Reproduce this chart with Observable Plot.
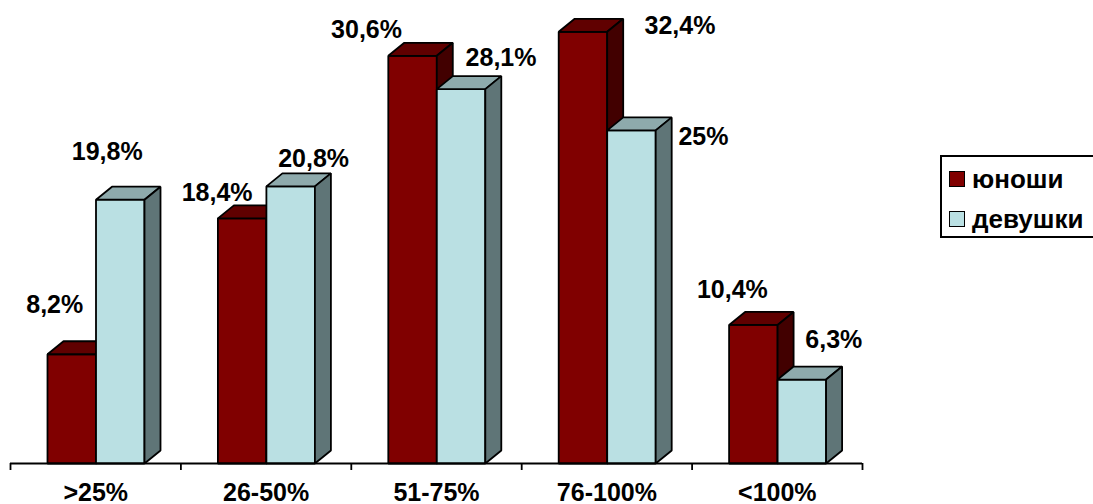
<!DOCTYPE html>
<html><head><meta charset="utf-8">
<script src="https://cdn.jsdelivr.net/npm/d3@7"></script>
<script src="https://cdn.jsdelivr.net/npm/@observablehq/plot@0.6"></script>
<style>
html,body{margin:0;padding:0;background:#fff;overflow:hidden;}
#wrap{position:relative;width:1093px;height:504px;font-family:"Liberation Sans",Arial,sans-serif;}
.legend{position:absolute;left:940px;top:155px;width:170px;height:83px;border:2px solid #000;box-sizing:border-box;font-weight:bold;font-size:26px;}
.item{position:absolute;left:7px;display:flex;align-items:center;height:26px;}
.sw{width:16px;height:16px;border:1.5px solid #000;margin-right:7px;box-sizing:border-box;}
</style></head>
<body><div id="wrap"></div>
<script>
// ---- data ----
const categories = [">25%", "26-50%", "51-75%", "76-100%", "<100%"];
const seriesNames = ["юноши", "девушки"];
const boys = [8.2, 18.4, 30.6, 32.4, 10.4];
const girls = [19.8, 20.8, 28.1, 25, 6.3];

// ---- layout / style ----
const W = 1093, H = 504;
const mL = 10, mR = 231, mT = 10, mB = 41;
const yMax = 34;
const pxPerX = (W - mL - mR) / categories.length;
const pxPerY = (H - mT - mB) / yMax;
const barStart = 37 / pxPerX, barW = 48.5 / pxPerX;
const depthX = 16 / pxPerX, depthY = 13 / pxPerY;
const tickLen = 7 / pxPerY;
const colors = {
  boys: {front: "#800000", top: "#600000", side: "#420000"},
  girls: {front: "#bae0e3", top: "#8eaaac", side: "#5f7577"}
};
// label nudges in pixels (relative to centre of the bar's front-top edge)
const boysNudge = [[-17, -49], [-25, -25], [-46, -26], [97, -6], [-21, -35]];
const girlsNudge = [[-13, -48], [23, -27], [40, -31], [72, 7], [32, -40]];

const fmt = v => (Number.isInteger(v) ? String(v) : String(v).replace(".", ",")) + "%";

function faces(values, s) {
  const front = [], top = [], side = [];
  values.forEach((v, i) => {
    const x0 = i + barStart + s * barW, x1 = x0 + barW;
    const id = s + "-" + i;
    front.push({id, x: x0, y: 0}, {id, x: x1, y: 0}, {id, x: x1, y: v}, {id, x: x0, y: v});
    top.push({id, x: x0, y: v}, {id, x: x1, y: v}, {id, x: x1 + depthX, y: v + depthY}, {id, x: x0 + depthX, y: v + depthY});
    side.push({id, x: x1, y: 0}, {id, x: x1 + depthX, y: depthY}, {id, x: x1 + depthX, y: v + depthY}, {id, x: x1, y: v});
  });
  return {front, top, side};
}
function barMarks(values, s, c) {
  const f = faces(values, s);
  const opts = (fill) => ({x: "x", y: "y", z: "id", fill, stroke: "#000", strokeWidth: 1.8,
    strokeLinejoin: "miter", curve: "linear-closed"});
  return [Plot.line(f.front, opts(c.front)), Plot.line(f.top, opts(c.top)), Plot.line(f.side, opts(c.side))];
}
function labelMark(values, s, nudge) {
  return Plot.text(values, {
    x: (v, i) => i + barStart + s * barW + barW / 2 + nudge[i][0] / pxPerX,
    y: (v, i) => v - nudge[i][1] / pxPerY,
    text: v => fmt(v), fontSize: 25, fontWeight: "bold", fill: "#000"
  });
}

const chart = Plot.plot({
  width: W, height: H,
  marginLeft: mL, marginRight: mR, marginTop: mT, marginBottom: mB,
  x: {domain: [0, categories.length], axis: null},
  y: {domain: [0, yMax], axis: null},
  style: {fontFamily: "'Liberation Sans', Arial, sans-serif", background: "#fff", overflow: "visible"},
  marks: [
    ...barMarks(boys, 0, colors.boys),
    ...barMarks(girls, 1, colors.girls),
    Plot.ruleY([0], {stroke: "#000", strokeWidth: 1.8}),
    Plot.ruleX(d3.range(categories.length + 1), {y1: 0, y2: -tickLen, stroke: "#000", strokeWidth: 1.8}),
    Plot.text(categories, {x: (d, i) => i + 0.5, y: 0, dy: 29, fontSize: 25, fontWeight: "bold", fill: "#000"}),
    labelMark(boys, 0, boysNudge),
    labelMark(girls, 1, girlsNudge)
  ]
});
const wrap = document.getElementById("wrap");
wrap.appendChild(chart);

const legend = document.createElement("div");
legend.className = "legend";
[colors.boys.front, colors.girls.front].forEach((col, i) => {
  const it = document.createElement("div");
  it.className = "item";
  it.style.top = (9 + i * 40) + "px";
  const sw = document.createElement("span");
  sw.className = "sw"; sw.style.background = col;
  const t = document.createElement("span");
  t.textContent = seriesNames[i];
  it.appendChild(sw); it.appendChild(t);
  legend.appendChild(it);
});
wrap.appendChild(legend);
</script></body></html>
